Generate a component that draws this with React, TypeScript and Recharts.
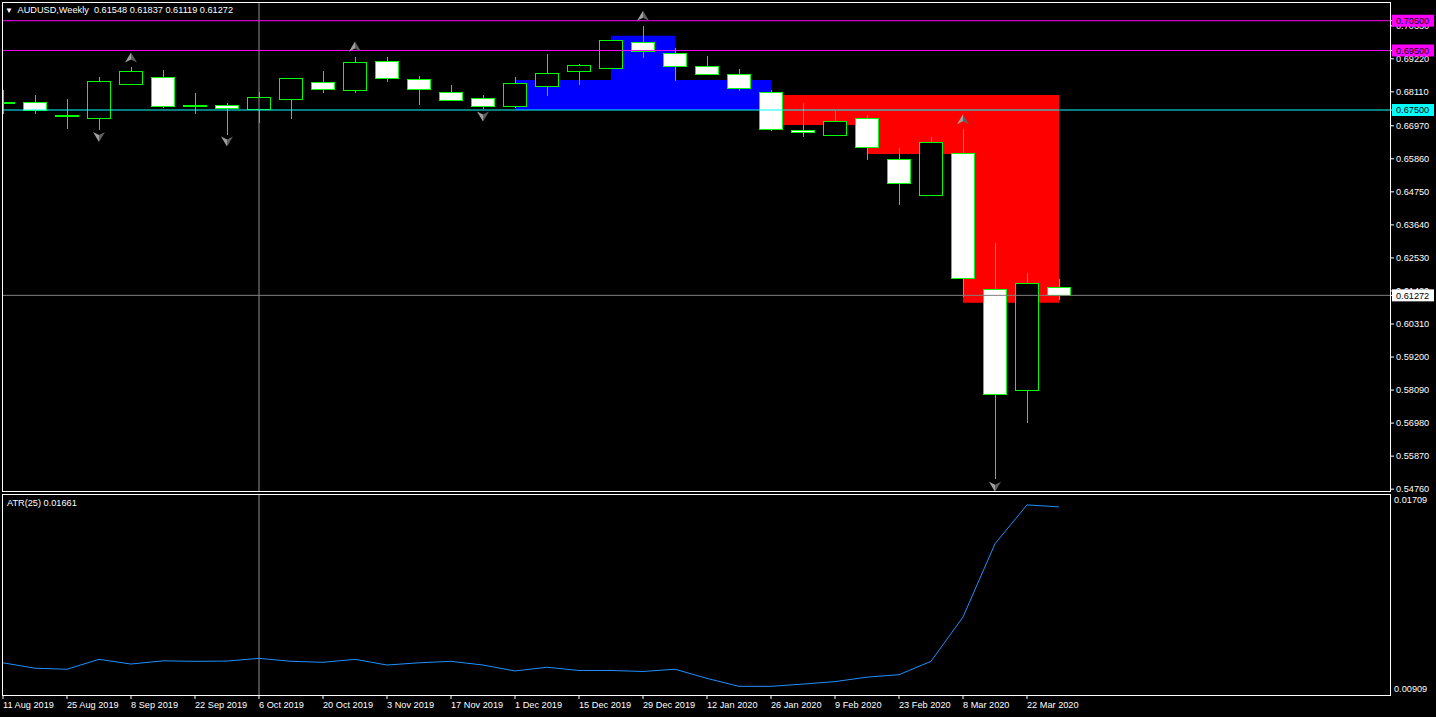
import {
  ComposedChart,
  Bar,
  Scatter,
  Line,
  XAxis,
  YAxis,
  ReferenceArea,
  ReferenceLine,
} from 'recharts';

const FONT = '"Liberation Sans", "DejaVu Sans", sans-serif';

const dates = [
  '11 Aug 2019', '18 Aug 2019', '25 Aug 2019', '1 Sep 2019', '8 Sep 2019', '15 Sep 2019',
  '22 Sep 2019', '29 Sep 2019', '6 Oct 2019', '13 Oct 2019', '20 Oct 2019', '27 Oct 2019',
  '3 Nov 2019', '10 Nov 2019', '17 Nov 2019', '24 Nov 2019', '1 Dec 2019', '8 Dec 2019',
  '15 Dec 2019', '22 Dec 2019', '29 Dec 2019', '5 Jan 2020', '12 Jan 2020', '19 Jan 2020',
  '26 Jan 2020', '2 Feb 2020', '9 Feb 2020', '16 Feb 2020', '23 Feb 2020', '1 Mar 2020',
  '8 Mar 2020', '15 Mar 2020', '22 Mar 2020', '29 Mar 2020',
];

const opens = [
  0.6778, 0.6776, 0.6734, 0.6722, 0.6836, 0.686, 0.6767, 0.6766, 0.6752, 0.6786, 0.6843, 0.6816,
  0.6914, 0.6853, 0.681, 0.6789, 0.6764, 0.683, 0.688, 0.6889, 0.6978, 0.6941, 0.6897, 0.687,
  0.681, 0.6682, 0.6665, 0.6722, 0.6584, 0.6463, 0.6605, 0.6148, 0.5808, 0.61548,
];
const highs = [
  0.6817, 0.68, 0.6787, 0.6861, 0.6895, 0.6884, 0.6807, 0.6773, 0.681, 0.6858, 0.6881, 0.6928,
  0.6928, 0.6863, 0.6833, 0.6799, 0.6861, 0.6938, 0.6905, 0.6985, 0.7031, 0.6957, 0.693, 0.6888,
  0.6816, 0.6774, 0.6748, 0.6733, 0.6622, 0.6659, 0.6686, 0.6303, 0.6202, 0.61837,
];
const lows = [
  0.6736, 0.6736, 0.6686, 0.6683, 0.6835, 0.6758, 0.6738, 0.6666, 0.6707, 0.6721, 0.6808, 0.6808,
  0.6845, 0.6768, 0.6779, 0.6752, 0.6758, 0.6798, 0.6835, 0.6888, 0.6926, 0.6846, 0.6869, 0.6815,
  0.668, 0.666, 0.6664, 0.6583, 0.6432, 0.6462, 0.6123, 0.5509, 0.5699, 0.61119,
];
const closes = [
  0.6777, 0.675, 0.6733, 0.6847, 0.6881, 0.6761, 0.6766, 0.6756, 0.6793, 0.6857, 0.682, 0.691,
  0.6857, 0.682, 0.6783, 0.6761, 0.684, 0.6873, 0.69, 0.6984, 0.6947, 0.6897, 0.687, 0.6822,
  0.6685, 0.6675, 0.6712, 0.6625, 0.6504, 0.6642, 0.6185, 0.5795, 0.6168, 0.61272,
];

const atr = [
  0.01031, 0.01009, 0.01005, 0.01045, 0.01026, 0.01039, 0.01037, 0.01038, 0.01049, 0.01037,
  0.01033, 0.01045, 0.01022, 0.01031, 0.01037, 0.01022, 0.00998, 0.01013, 0.01, 0.01, 0.00996,
  0.01005, 0.00968, 0.00936, 0.00936, 0.00945, 0.00955, 0.00973, 0.00983, 0.01037, 0.01216,
  0.01512, 0.01669, 0.01661,
];

const fractalUp = [
  { i: 4, p: 0.6926 },
  { i: 11, p: 0.6963 },
  { i: 20, p: 0.7067 },
  { i: 30, p: 0.6719 },
];
const fractalDown = [
  { i: 3, p: 0.6659 },
  { i: 7, p: 0.6644 },
  { i: 15, p: 0.6728 },
  { i: 31, p: 0.5484 },
];

const blueZones = [
  { from: 16, to: 24, lo: 0.675, hi: 0.68508 },
  { from: 19, to: 21, lo: 0.68012, hi: 0.69996 },
];
const redZones = [
  { from: 24, to: 33, lo: 0.67, hi: 0.68004 },
  { from: 27, to: 33, lo: 0.66022, hi: 0.68004 },
  { from: 30, to: 33, lo: 0.61025, hi: 0.68004 },
];

const levels = [
  { value: 0.705, color: '#ff00ff', label: '#ff00ff' },
  { value: 0.695, color: '#ff00ff', label: '#ff00ff' },
  { value: 0.675, color: '#00ffff', label: '#00ffff' },
  { value: 0.61272, color: '#808080', label: '#ffffff' },
];

const priceTicks = [
  0.7033, 0.6922, 0.6811, 0.6697, 0.6586, 0.6475, 0.6364, 0.6253, 0.6142, 0.6031, 0.592, 0.5809,
  0.5698, 0.5587, 0.5476,
];
const atrTicks = [0.01709, 0.00909];
const dateTicks = [0, 2, 4, 6, 8, 10, 12, 14, 16, 18, 20, 22, 24, 26, 28, 30, 32];

const candles = dates.map((d, i) => ({
  i,
  date: d,
  range: [lows[i], highs[i]],
  o: opens[i],
  h: highs[i],
  l: lows[i],
  c: closes[i],
}));
const atrData = atr.map((v, i) => ({ i, v }));

const X_DOMAIN = [0, 1387 / 32];

const Candle = (props: any) => {
  const { x, y, width, height, payload } = props;
  const { o, h, l, c } = payload;
  const top = Math.min(y, y + height);
  const span = Math.abs(height);
  const py = (v: number) => top + ((h - v) / (h - l)) * span;
  const cx = Math.round(x + width / 2) + 0.5;
  const bTop = py(Math.max(o, c));
  const bBot = py(Math.min(o, c));
  const bull = c > o;
  return (
    <g shapeRendering="crispEdges">
      <line x1={cx} x2={cx} y1={top} y2={top + span} stroke="#00ff00" />
      <rect
        x={Math.round(x) + 0.5}
        y={Math.round(bTop) + 0.5}
        width={Math.round(width) - 1}
        height={Math.max(Math.round(bBot - bTop), 1)}
        fill={bull ? '#000000' : '#ffffff'}
        stroke="#00ff00"
      />
    </g>
  );
};

const UpArrow = (props: any) => {
  const { cx, cy } = props;
  return (
    <g>
      <polygon points={`${cx},${cy - 5} ${cx},${cy + 2} ${cx - 6},${cy + 5}`} fill="#a0a0a0" />
      <polygon points={`${cx},${cy - 5} ${cx + 6},${cy + 5} ${cx},${cy + 2}`} fill="#606060" />
    </g>
  );
};

const DownArrow = (props: any) => {
  const { cx, cy } = props;
  return (
    <g>
      <polygon points={`${cx},${cy + 5} ${cx},${cy - 2} ${cx - 6},${cy - 5}`} fill="#a0a0a0" />
      <polygon points={`${cx},${cy + 5} ${cx + 6},${cy - 5} ${cx},${cy - 2}`} fill="#606060" />
    </g>
  );
};

const PriceTick = (props: any) => {
  const { x, y, payload } = props;
  const lvl = levels.find((l) => Math.abs(l.value - payload.value) < 1e-9);
  if (lvl) {
    return (
      <g>
        <rect x={x - 4} y={y - 6} width={42} height={12} fill={lvl.label} />
        <text x={x} y={y} dy="0.35em" fill="#000000" fontSize={9.2} fontFamily={FONT}>
          {payload.value.toFixed(5)}
        </text>
      </g>
    );
  }
  return (
    <text x={x} y={y} dy="0.35em" fill="#ffffff" fontSize={9.2} fontFamily={FONT}>
      {payload.value.toFixed(5)}
    </text>
  );
};

const AtrTick = (props: any) => {
  const { x, y, payload, index } = props;
  return (
    <text
      x={x}
      y={y}
      dy={index === 0 ? '0.9em' : '-0.1em'}
      fill="#ffffff"
      fontSize={9.2}
      fontFamily={FONT}
    >
      {payload.value.toFixed(5)}
    </text>
  );
};

const DateTick = (props: any) => {
  const { x, y, payload } = props;
  return (
    <text x={x} y={y} dy="0.71em" fill="#ffffff" fontSize={9.2} fontFamily={FONT} textAnchor="start">
      {dates[payload.value]}
    </text>
  );
};

const frame = (left: number, top: number, width: number, height: number) => ({
  position: 'absolute' as const,
  left,
  top,
  width,
  height,
  border: '1px solid #ffffff',
  boxSizing: 'border-box' as const,
  pointerEvents: 'none' as const,
});

export default function App() {
  return (
    <div
      style={{
        position: 'fixed',
        left: 0,
        top: 0,
        width: 1436,
        height: 717,
        background: '#000000',
        overflow: 'hidden',
        fontFamily: FONT,
      }}
    >
      <div style={{ position: 'absolute', left: 0, top: 0 }}>
        <ComposedChart
          width={1436}
          height={494}
          data={candles}
          margin={{ top: 2, right: 0, bottom: 3, left: 3 }}
        >
          <XAxis dataKey="i" type="number" domain={X_DOMAIN} allowDataOverflow hide />
          <YAxis
            orientation="right"
            width={46}
            type="number"
            domain={[0.546984, 0.711288]}
            allowDataOverflow
            ticks={[...priceTicks, ...levels.map((l) => l.value)]}
            interval={0}
            axisLine={false}
            tickLine={{ stroke: '#ffffff' }}
            tickSize={4}
            tickMargin={2}
            tick={<PriceTick />}
          />
          {blueZones.map((z, k) => (
            <ReferenceArea
              key={'b' + k}
              x1={z.from}
              x2={z.to}
              y1={z.lo}
              y2={z.hi}
              fill="#0000ff"
              fillOpacity={1}
              stroke="none"
            />
          ))}
          {redZones.map((z, k) => (
            <ReferenceArea
              key={'r' + k}
              x1={z.from}
              x2={z.to}
              y1={z.lo}
              y2={z.hi}
              fill="#ff0000"
              fillOpacity={1}
              stroke="none"
            />
          ))}
          <ReferenceLine x={8} stroke="#909090" />
          <Bar dataKey="range" barSize={24} shape={<Candle />} isAnimationActive={false} />
          <Scatter data={fractalUp} dataKey="p" shape={<UpArrow />} isAnimationActive={false} />
          <Scatter data={fractalDown} dataKey="p" shape={<DownArrow />} isAnimationActive={false} />
          {levels.map((l) => (
            <ReferenceLine key={l.value} y={l.value} stroke={l.color} />
          ))}
        </ComposedChart>
      </div>

      <div style={{ position: 'absolute', left: 0, top: 494 }}>
        <ComposedChart
          width={1436}
          height={223}
          data={atrData}
          margin={{ top: 1, right: 0, bottom: 0, left: 3 }}
        >
          <XAxis
            dataKey="i"
            type="number"
            domain={X_DOMAIN}
            allowDataOverflow
            ticks={dateTicks}
            interval={0}
            height={22}
            axisLine={false}
            tickLine={{ stroke: '#ffffff' }}
            tickSize={4}
            tickMargin={2}
            tick={<DateTick />}
          />
          <YAxis
            orientation="right"
            width={46}
            type="number"
            domain={[0.009009, 0.01709]}
            allowDataOverflow
            ticks={atrTicks}
            interval={0}
            axisLine={false}
            tickLine={false}
            tickSize={2}
            tickMargin={2}
            tick={<AtrTick />}
          />
          <ReferenceLine x={8} stroke="#909090" />
          <Line
            dataKey="v"
            type="linear"
            stroke="#1e90ff"
            strokeWidth={1}
            dot={false}
            isAnimationActive={false}
          />
        </ComposedChart>
      </div>

      <div style={frame(2, 2, 1389, 490)} />
      <div style={frame(2, 494, 1389, 202)} />

      <div
        style={{
          position: 'absolute',
          left: 5,
          top: 4,
          color: '#ffffff',
          fontSize: 9.2,
          whiteSpace: 'pre',
          lineHeight: '12px',
        }}
      >
        <span style={{ fontSize: 8 }}>▼</span>
        {'  AUDUSD,Weekly  0.61548 0.61837 0.61119 0.61272'}
      </div>
      <div
        style={{
          position: 'absolute',
          left: 7,
          top: 497,
          color: '#ffffff',
          fontSize: 9.2,
          whiteSpace: 'pre',
          lineHeight: '12px',
        }}
      >
        ATR(25) 0.01661
      </div>
    </div>
  );
}
